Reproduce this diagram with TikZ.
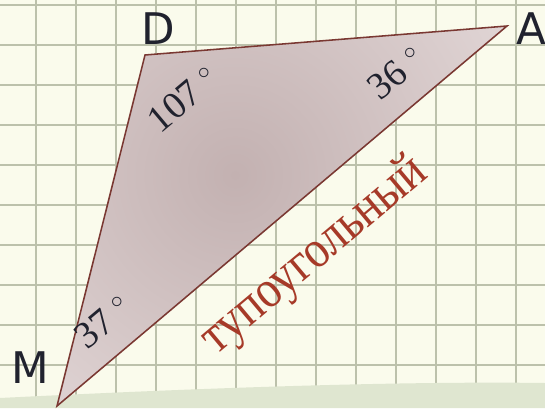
\documentclass[tikz,border=0pt]{standalone}
\usepackage{fontspec}
\setmainfont{Liberation Serif}
\newfontfamily\vertexfont{DejaVu Sans}
\newfontfamily\degreefont{Liberation Serif}
\usepackage{tikz}
\usepackage{xcolor}
\definecolor{paper}{HTML}{FAFBEC}
\definecolor{gridline}{HTML}{BCC1AB}
\definecolor{band}{HTML}{DFE6D0}
\definecolor{rim}{HTML}{7A3832}
\definecolor{fillin}{HTML}{C3B1B1}
\definecolor{fillout}{HTML}{E2D7D7}
\definecolor{rust}{HTML}{A63A28}
\definecolor{ink}{HTML}{20222E}

\begin{document}
\begin{tikzpicture}[x=0.025cm,y=-0.025cm,
  vertex/.style={text=ink,font=\vertexfont\fontsize{31}{31}\selectfont,inner sep=0pt},
  anglabel/.style={text=ink,font=\degreefont\fontsize{27}{27}\selectfont,rotate=40,inner sep=0pt}]
\useasboundingbox (0,0) rectangle (545,408);
% Squared paper
\fill[paper] (0,0) rectangle (545,408);
\foreach \x in {36,76,...,516}
  \draw[gridline,line width=1.5pt] (\x,0) -- (\x,408);
\foreach \y in {5,45,...,365}
  \draw[gridline,line width=1.5pt] (0,\y) -- (545,\y);
% Bottom band
\fill[band] (0,398) .. controls (200,388) and (400,381) .. (545,383) -- (545,408) -- (0,408) -- cycle;
% Triangle MDA
\coordinate (M) at (57,406);
\coordinate (D) at (145,55);
\coordinate (A) at (507,26);
\begin{scope}
  \clip (M) -- (D) -- (A) -- cycle;
  \shade[inner color=fillin,outer color=fillout] (235,175) circle (330);
\end{scope}
\draw[rim,line width=1.1pt] (M) -- (D) -- (A) -- cycle;
% Vertex names
\node[vertex] (labD) at (158.5,29) {D};
\node[vertex] (labA) at (531,28.5) {A};
\node[vertex] (labM) at (30,368) {M};
% Angles
\node[anglabel] (angD) at (183,99) {107 $^\circ$};
\node[anglabel] (angA) at (396,73) {36 $^\circ$};
\node[anglabel] (angM) at (103,322) {37 $^\circ$};
% Kind of triangle
\node[rotate=40,text=rust,font=\rmfamily\fontsize{38}{38}\selectfont,inner sep=0pt] (kind) at (315,256) {\scalebox{0.87}[1]{тупоугольный}};
\end{tikzpicture}
\end{document}
